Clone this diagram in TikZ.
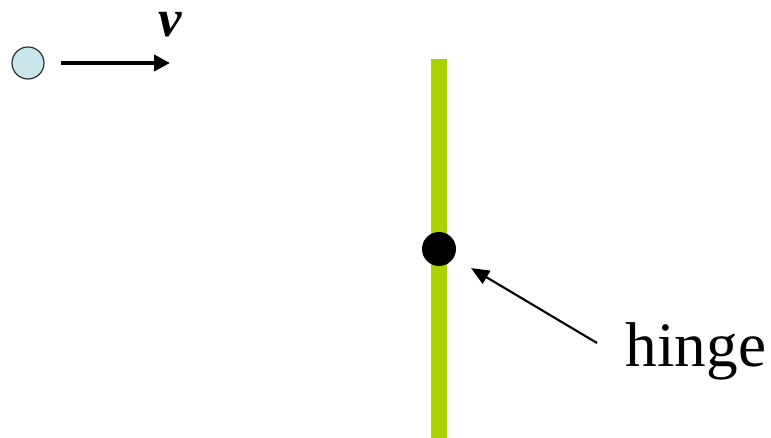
\documentclass[tikz,border=0pt]{standalone}
\usepackage{fontspec}
\setmainfont{Liberation Serif}
\usepackage{tikz}
\usetikzlibrary{arrows.meta, positioning, calc}
\definecolor{ballcyan}{RGB}{200,230,235}
\definecolor{rodgreen}{RGB}{170,210,0}

\begin{document}
\begin{tikzpicture}[
    x=0.02cm, y=-0.02cm,
    ball/.style={
      circle, draw=black!80, line width=0.7pt,
      fill=ballcyan, minimum size=0.64cm, inner sep=0pt
    },
    pivot/.style={
      circle, fill=black, minimum size=0.68cm, inner sep=0pt
    },
    biglabel/.style={
      font=\fontsize{36}{40}\selectfont, inner sep=0pt, anchor=base
    },
    velarr/.style={
      -{Triangle[length=0.32cm, width=0.32cm]}, line width=2.2pt
    },
    pointarr/.style={
      -{Triangle[length=0.36cm, width=0.3cm]}, line width=1.2pt
    }
  ]

  \useasboundingbox (0,0) rectangle (771,438);

  % ---- Rod ----
  \fill[rodgreen] (431,59) rectangle (447,438);

  % ---- Ball and its velocity ----
  \node[ball] (BALL) at (28,63) {};
  \coordinate (vend) at (170,63);
  \draw[velarr, shorten <=0.32cm] (BALL.east) -- (vend);
  \node[biglabel, font=\fontsize{30}{34}\selectfont\bfseries\itshape]
    (V) at (170,37) {v};

  % ---- Hinge ----
  \node[pivot] (HINGE) at (439,249) {};
  \node[biglabel] (HLABEL) at (696,367) {hinge};
  \coordinate (hstart) at (597,343);
  \draw[pointarr, shorten >=0.4cm] (hstart) -- (HINGE);

\end{tikzpicture}
\end{document}
